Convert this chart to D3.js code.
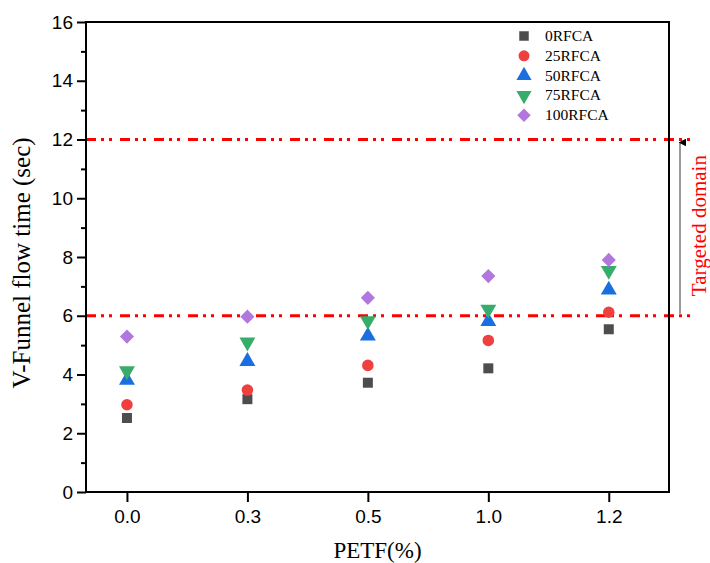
<!DOCTYPE html>
<html lang='en'>
<head>
<meta charset='UTF-8'>
<script src='https://d3js.org/d3.v7.min.js'></script>
<title>V-Funnel flow time</title>
<style>
  body { margin: 0; background: #fff; }
</style>
</head>
<body>
<svg id='chart' width='710' height='563'></svg>
<script>
// categories on the x axis (PETF %)
const petf = ['0.0', '0.3', '0.5', '1.0', '1.2']
// series
const series = ['0RFCA', '25RFCA', '50RFCA', '75RFCA', '100RFCA']
const rfca0   = [2.52, 3.16, 3.72, 4.21, 5.54]
const rfca25  = [2.97, 3.47, 4.31, 5.16, 6.12]
const rfca50  = [3.81, 4.45, 5.31, 5.81, 6.88]
const rfca75  = [4.12, 5.10, 5.83, 6.22, 7.54]
const rfca100 = [5.29, 5.97, 6.61, 7.35, 7.90]
const yTicks = [0, 2, 4, 6, 8, 10, 12, 14, 16]
const limits = [6, 12]

const colors = ['#4d4d4d', '#f03f3f', '#1a6edf', '#37ad6b', '#b177de']
// diamond = square turned 45 degrees
const shapes = [d3.symbolSquare, d3.symbolCircle, d3.symbolTriangle, d3.symbolTriangle, d3.symbolSquare]
const sizes = [100, 105, 110, 110, 100]
const turns = [0, 0, 0, 180, 45]
const allData = [rfca0, rfca25, rfca50, rfca75, rfca100]

const svg = d3.select('#chart')
const pLeft = 86, pRight = 669, pTop = 22, pBottom = 492

// x is the category index, padded like the original axis
let x = d3.scaleLinear().domain([0.66, 5.5]).range([pLeft, pRight])
let y = d3.scaleLinear().domain([0, 16]).range([pBottom, pTop])

// limit lines (dash-dot-dot)
svg.selectAll('line.limit')
  .data(limits)
  .enter()
  .append('line')
    .attr('class', 'limit')
    .attr('x1', pLeft).attr('x2', 690)
    .attr('y1', d => y(d)).attr('y2', d => y(d))
    .style('stroke', '#ff0000')
    .style('stroke-width', 2.8)
    .style('stroke-dasharray', '10,5,3,5,3,8')

// y axis with minor ticks
let yAxis = d3.axisLeft(y).tickValues(yTicks).tickSize(9).tickPadding(4)
svg.append('g').attr('transform', `translate(${pLeft},0)`).call(yAxis)
let yMinor = d3.axisLeft(y).tickValues(d3.range(1, 16, 2)).tickSize(5).tickFormat('')
svg.append('g').attr('transform', `translate(${pLeft},0)`).call(yMinor)

// x axis
let xAxis = d3.axisBottom(x).tickValues([1, 2, 3, 4, 5]).tickFormat(d => petf[d - 1]).tickSize(10).tickPadding(8)
svg.append('g').attr('transform', `translate(0,${pBottom})`).call(xAxis)

svg.selectAll('.domain').remove()
svg.selectAll('.tick line').style('stroke', '#000').style('stroke-width', 2)
svg.selectAll('.tick text')
  .style('font-family', 'Liberation Sans, Arial, sans-serif')
  .style('font-size', '19px')
  .style('fill', '#000')

// frame
svg.append('rect')
  .attr('x', pLeft).attr('y', pTop)
  .attr('width', pRight - pLeft).attr('height', pBottom - pTop)
  .style('fill', 'none')
  .style('stroke', '#000')
  .style('stroke-width', 2)

// points
allData.forEach((vals, s) => {
  let sym = d3.symbol().type(shapes[s]).size(sizes[s])
  svg.append('g')
    .selectAll('path')
    .data(vals)
    .enter()
    .append('path')
      .attr('d', sym)
      .attr('transform', (d, i) => `translate(${x(i + 1)},${y(d)}) rotate(${turns[s]})`)
      .style('fill', colors[s])
})

// legend
let legend = svg.append('g')
series.forEach((name, s) => {
  let ly = 36 + s * 19.8
  legend.append('path')
    .attr('d', d3.symbol().type(shapes[s]).size(sizes[s] * 0.9))
    .attr('transform', `translate(524,${ly}) rotate(${turns[s]})`)
    .style('fill', colors[s])
  legend.append('text')
    .attr('x', 545).attr('y', ly + 5)
    .text(name)
    .style('font-family', 'Liberation Serif, Times New Roman, serif')
    .style('font-size', '15.5px')
})

// arrow for targeted domain
svg.append('defs').append('marker')
    .attr('id', 'head')
    .attr('viewBox', '0 0 10 10')
    .attr('refX', 5).attr('refY', 2)
    .attr('markerWidth', 5).attr('markerHeight', 5)
    .attr('orient', 'auto')
  .append('path')
    .attr('d', 'M0,10 L5,0 L10,10 Z')
    .style('fill', '#000')
svg.append('line')
  .attr('x1', 680).attr('x2', 680)
  .attr('y1', y(limits[0]) - 2).attr('y2', y(limits[1]) + 3)
  .style('stroke', '#777')
  .style('stroke-width', 1.5)
  .attr('marker-end', 'url(#head)')

svg.append('text')
  .attr('transform', `translate(706,${(y(limits[0]) + y(limits[1])) / 2 - 2}) rotate(-90)`)
  .attr('text-anchor', 'middle')
  .text('Targeted domain')
  .style('font-family', 'Liberation Serif, Times New Roman, serif')
  .style('font-size', '21px')
  .style('fill', '#ff0000')

// axis titles
svg.append('text')
  .attr('transform', 'translate(30,263) rotate(-90)')
  .attr('text-anchor', 'middle')
  .text('V-Funnel flow time (sec)')
  .style('font-family', 'Liberation Serif, Times New Roman, serif')
  .style('font-size', '25px')

svg.append('text')
  .attr('x', (pLeft + pRight) / 2).attr('y', 558)
  .attr('text-anchor', 'middle')
  .text('PETF(%)')
  .style('font-family', 'Liberation Serif, Times New Roman, serif')
  .style('font-size', '23px')
</script>
</body>
</html>
